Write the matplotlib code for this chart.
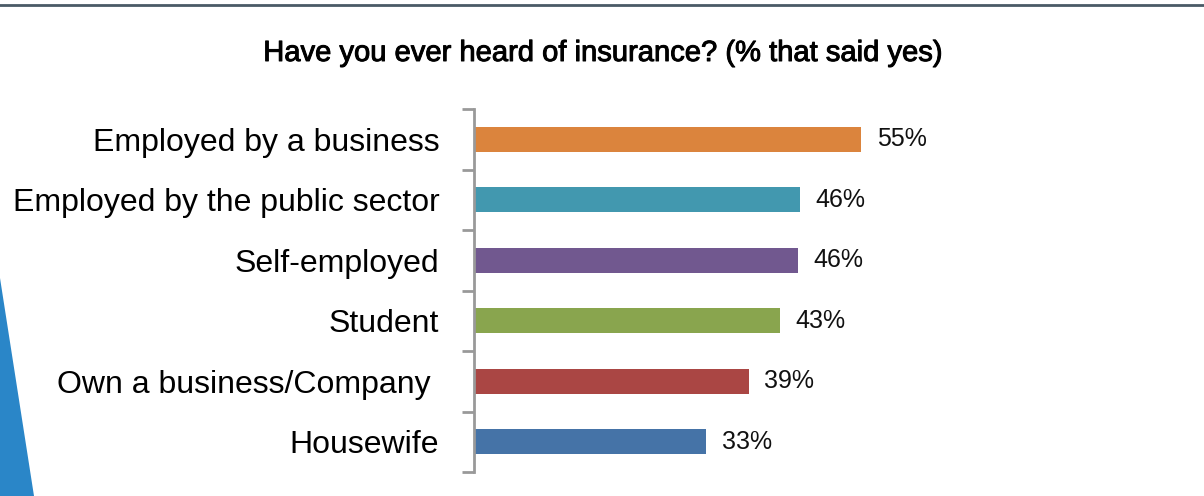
import matplotlib
matplotlib.use("Agg")
import matplotlib.pyplot as plt
import matplotlib.patheffects as pe
from matplotlib.patches import Polygon
from matplotlib.lines import Line2D

# survey answers, bottom to top
categories = ["Housewife", "Own a business/Company ", "Student",
              "Self-employed", "Employed by the public sector", "Employed by a business"]
values = [33.0, 39.0, 43.4, 46.0, 46.3, 55.0]
colors = ["#4573a7", "#aa4644", "#89a54e", "#71588f", "#4298af", "#db843d"]
title = "Have you ever heard of insurance? (% that said yes)"

plt.rcParams["font.family"] = ["Liberation Sans", "DejaVu Sans"]

fig = plt.figure(figsize=(12.04, 4.96), dpi=100)

# frame decoration: rule along the top and blue wedge at bottom left
fig.add_artist(Line2D([0, 1], [1 - 5/496, 1 - 5/496], transform=fig.transFigure,
                      color="#4a5a66", lw=2))
fig.add_artist(Polygon([[0, 1 - 278/496], [34/1204, 0], [0, 0]], closed=True,
                       transform=fig.transFigure, facecolor="#2a86c8", edgecolor="none"))

ax = fig.add_axes([474/1204, 1 - 472/496, 626/1204, (472 - 109)/496])
pos = list(range(len(categories)))
ax.barh(pos, values, height=0.41, color=colors)
ax.set_xlim(0, 626/7.04)
ax.set_ylim(-0.5, len(categories) - 0.5)

for p, v in zip(pos, values):
    ax.text(v + 2.2, p, "%.0f%%" % v, va="center", ha="left", fontsize=18,
            color="#111111")

for s in ["top", "right", "bottom"]:
    ax.spines[s].set_visible(False)
ax.spines["left"].set_color("#999999")
ax.spines["left"].set_linewidth(2)
ax.set_xticks([])

# tick marks sit between bars, labels on the bar centres
ax.set_yticks([p - 0.5 for p in pos] + [len(pos) - 0.5])
ax.set_yticklabels([])
ax.tick_params(axis="y", which="major", length=9, width=2, color="#999999")
ax.set_yticks(pos, minor=True)
ax.set_yticklabels(categories, minor=True, fontsize=23)
ax.tick_params(axis="y", which="minor", length=0, pad=25)

fig.text(603/1204, 1 - 53/496, title, ha="center", va="center", fontsize=21,
         path_effects=[pe.withStroke(linewidth=0.7, foreground="black")])

fig.savefig("out.png", dpi=100)
